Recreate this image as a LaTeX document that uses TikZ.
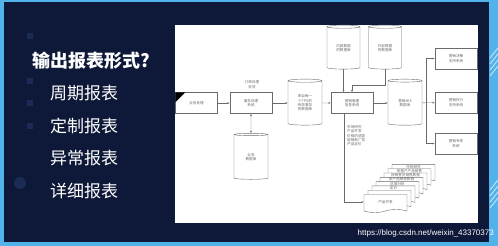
\documentclass[tikz,border=0pt]{standalone}
\usepackage{fontspec}
\setmainfont{Liberation Sans}
\newfontfamily\cjk{Noto Sans CJK SC}
\usetikzlibrary{arrows.meta,shapes.geometric,shapes.symbols}

\definecolor{navy}{HTML}{0E1838}
\definecolor{deco}{HTML}{1C2B55}
\definecolor{edgeblue}{HTML}{52B2EA}
\definecolor{linegray}{HTML}{6A6A6A}

\tikzset{
  tiny/.style={font=\cjk\fontsize{3.6}{4.4}\selectfont,text=linegray},
  box/.style={tiny,draw=linegray,line width=.4pt,fill=white,minimum width=42pt,minimum height=21pt,inner sep=0pt,align=center},
  dbase/.style={tiny,cylinder,shape border rotate=90,aspect=.22,draw=linegray,line width=.4pt,fill=white,minimum width=34pt,minimum height=46pt,inner sep=0pt,align=center},
  report/.style={tiny,tape,tape bend top=none,tape bend height=3pt,draw=linegray,line width=.4pt,fill=white,minimum width=43pt,minimum height=18pt,inner sep=0pt},
  tag/.style={tiny,anchor=north,inner sep=.6pt},
  flow/.style={draw=linegray,line width=.4pt,-{Latex[length=2.2pt,width=1.8pt]}},
  bullet/.style={font=\cjk\fontsize{17}{20}\selectfont,text=white,anchor=west,inner sep=0pt},
}

\begin{document}
\begin{tikzpicture}[x=1pt,y=-1pt]
\useasboundingbox (0,0) rectangle (498,246);
% background frame
\fill[edgeblue] (0,0) rectangle (498,246);
\fill[navy] (4,2) rectangle (489,242);
\foreach \y in {58,64,70,76} \draw[white!70!edgeblue,line width=.8pt] (490,\y) -- (498,\y-10);
\foreach \y in {190,196,202,208} \draw[white!70!edgeblue,line width=.8pt] (490,\y) -- (498,\y-10);
\foreach \y in {33,78,100,123} \fill[deco] (27,\y) rectangle ++(6,6);
\fill[deco] (20,183) circle (6);

% left text
\node[font=\cjk\bfseries\fontsize{18}{21}\selectfont,text=white,anchor=west,inner sep=0pt] (title) at (32,61) {输出报表形式?};
\node[bullet] (cyc) at (50,93) {周期报表};
\node[bullet] (cus) at (50,126) {定制报表};
\node[bullet] (exc) at (50,158) {异常报表};
\node[bullet] (det) at (50,191) {详细报表};

% white panel
\fill[white] (175,25) rectangle (478,223);

% chart
\node[box] (src) at (196.5,103) {业务处理};
\fill[black] (src.north west) -- ++(10,0) -- ++(-10,10) -- cycle;
\node[box] (tps) at (251,103) {事务处理\\系统};
\node[tiny,align=center] (tpslbl) at (252,84.5) {订单处理\\存货};
\node[dbase] (bizdb) at (251,157) {业务\\数据库};
\node[dbase] (txdb) at (305,103) {来自每一\\个TPS的\\有效事务\\的数据库};
\node[dbase,minimum width=33pt,minimum height=44pt] (indb) at (343.5,48) {内部数据\\的数据库};
\node[dbase,minimum width=33pt,minimum height=44pt] (exdb) at (385,48) {外部数据\\的数据库};
\node[box] (mis) at (352,103) {营销管理\\信息系统};
\node[dbase] (misdb) at (405,103) {营销MIS\\数据库};
\node[box] (dss) at (456,58.5) {营销决策\\支持系统};
\node[box] (exe) at (456,102.5) {营销执行\\支持系统};
\node[box] (es) at (456,143.5) {营销专家\\系统};
\node[tiny,align=left,anchor=north west,inner sep=0pt] (outlbl) at (347,125) {市场研究\\产品开发\\价格的调查\\促销和广告\\产品定价};

% report stack
\foreach \i/\txt in {7/市场研究,6/按客户产品销售,5/按销售员销售数据,4/按产品销售数据,3/区域分析,2/定价,1/{}} {
  \node[report] (doc\i) at ({385.5+4*\i},{202-4.3*\i}) {};
  \node[tag] at (doc\i.north) {\txt};
}
\node[report] (doc0) at (385.5,202) {产品开发};

% connectors
\draw[flow] (src) -- (tps);
\draw[flow] (tps) -- (txdb);
\draw[flow,{Latex[length=2.2pt,width=1.8pt]}-{Latex[length=2.2pt,width=1.8pt]}] (tps) -- (bizdb);
\draw[flow] (txdb) -- (mis);
\draw[flow] (indb.south) -- (indb.south |- mis.north);
\draw[flow] (exdb.south) |- ([yshift=7pt]mis.north) -- (mis.north);
\draw[flow] (mis) -- (misdb);
\coordinate (trunk) at (426,103);
\draw[flow] (misdb) -- (exe);
\draw[flow] (trunk) |- (dss);
\draw[flow] (trunk) |- (es);
\draw[flow] ([xshift=-8pt]mis.south) |- (doc0.west);

% watermark
\node[font=\fontsize{8}{9}\selectfont,text=white!80,anchor=east,inner sep=0pt] (wm) at (494,233) {https://blog.csdn.net/weixin\_43370373};
\end{tikzpicture}
\end{document}
